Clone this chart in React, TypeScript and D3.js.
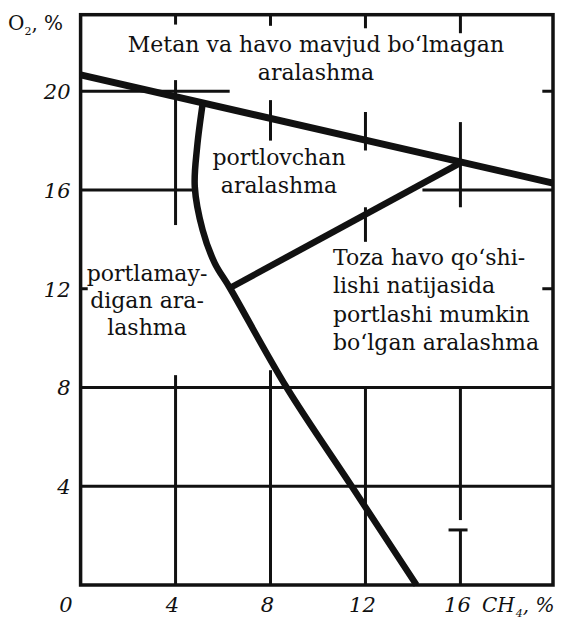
import React from "react";
import * as d3 from "d3";

// Axis ranges (CH4 %, O2 %)
const ch4Domain = [0, 19.9];
const o2Domain = [0, 23.1];

const xTickValues = [0, 4, 8, 12, 16];
const yTickValues = [4, 8, 12, 16, 20];

// Boundary of the region with no methane-air mixture
const upperBoundary: [number, number][] = [
  [0, 20.66],
  [19.9, 16.28],
];

// Line along which fresh air dilutes the mixture
const dilutionLine: [number, number][] = [
  [6.29, 12.03],
  [16, 17.1],
];

// Lower explosive boundary (nose of the explosive triangle)
const explosiveBoundary: [number, number][] = [
  [5.15, 19.55],
  [4.91, 17.75],
  [4.81, 16.13],
  [5.14, 14.38],
  [5.65, 13.04],
  [6.29, 12.03],
  [8.68, 8.0],
  [11.42, 4.0],
  [14.15, 0],
];

// Grid pieces: horizontal [O2, CH4 from, CH4 to]
const hGrid: [number, number, number][] = [
  [20, 0, 6.28],
  [20, 19.45, 19.9],
  [16, 0, 4.8],
  [16, 14.4, 19.9],
  [12, 0, 0.3],
  [12, 19.45, 19.9],
  [8, 0, 19.9],
  [4, 0, 19.9],
  [2.23, 15.5, 16.3],
];

// Grid pieces: vertical [CH4, O2 from, O2 to]
const vGrid: [number, number, number][] = [
  [4, 22.7, 23.1],
  [4, 14.58, 20.45],
  [4, 0, 8.5],
  [8, 22.65, 23.1],
  [8, 18.0, 19.64],
  [8, 0, 8.7],
  [12, 22.55, 23.1],
  [12, 17.6, 19.16],
  [12, 13.9, 15.3],
  [12, 0, 8.0],
  [16, 22.35, 23.1],
  [16, 15.3, 18.75],
  [16, 2.63, 8.0],
  [16, 0, 2.23],
];

// Region captions
const topCaption = ["Metan va havo mavjud bo\u2018lmagan", "aralashma"];
const explosiveCaption = ["portlovchan", "aralashma"];
const nonExplosiveCaption = ["portlamay-", "digan ara-", "lashma"];
const dilutionCaption = [
  "Toza havo qo\u2018shi-",
  "lishi natijasida",
  "portlashi mumkin",
  "bo\u2018lgan aralashma",
];

const W = 563;
const H = 619;
const FONT = "'DejaVu Serif', serif";
const ink = "#111";

type LabelProps = {
  x: number;
  y: number;
  anchor?: "start" | "middle" | "end";
  italic?: boolean;
  size?: number;
  children: React.ReactNode;
};

function Label({ x, y, anchor = "start", italic = false, size = 22, children }: LabelProps) {
  return (
    <text
      x={x}
      y={y}
      textAnchor={anchor}
      fontFamily={FONT}
      fontStyle={italic ? "italic" : "normal"}
      fontSize={size}
      fill={ink}
    >
      {children}
    </text>
  );
}

export default function App() {
  const x = d3.scaleLinear().domain(ch4Domain).range([80.6, 553]);
  const y = d3.scaleLinear().domain(o2Domain).range([585, 14.7]);

  const line = d3
    .line<[number, number]>()
    .x((d) => x(d[0]))
    .y((d) => y(d[1]));
  const curve = d3
    .line<[number, number]>()
    .x((d) => x(d[0]))
    .y((d) => y(d[1]))
    .curve(d3.curveCatmullRom.alpha(0.5));

  return (
    <svg
      width={W}
      height={H}
      viewBox={`0 0 ${W} ${H}`}
      style={{ position: "absolute", left: 0, top: 0, background: "#fff" }}
    >
      <rect width={W} height={H} fill="#fff" />
      {/* grid pieces */}
      {hGrid.map(([o2, a, b], i) => (
        <line
          key={`h${i}`}
          x1={x(a)}
          x2={x(b)}
          y1={y(o2)}
          y2={y(o2)}
          stroke={ink}
          strokeWidth={3}
        />
      ))}
      {vGrid.map(([c, a, b], i) => (
        <line
          key={`v${i}`}
          x1={x(c)}
          x2={x(c)}
          y1={y(a)}
          y2={y(b)}
          stroke={ink}
          strokeWidth={3}
        />
      ))}
      {/* frame */}
      <rect
        x={x(ch4Domain[0])}
        y={y(o2Domain[1])}
        width={x(ch4Domain[1]) - x(ch4Domain[0])}
        height={y(o2Domain[0]) - y(o2Domain[1])}
        fill="none"
        stroke={ink}
        strokeWidth={3.5}
      />
      {/* boundaries */}
      <path d={line(upperBoundary) || ""} fill="none" stroke={ink} strokeWidth={7} />
      <path d={line(dilutionLine) || ""} fill="none" stroke={ink} strokeWidth={6.5} />
      <path d={curve(explosiveBoundary) || ""} fill="none" stroke={ink} strokeWidth={6.5} />

      {/* y tick labels */}
      {yTickValues.map((v) => (
        <Label key={`yt${v}`} x={x(0) - 10} y={y(v) + 8} anchor="end" italic size={21}>
          {v}
        </Label>
      ))}
      {/* x tick labels */}
      {xTickValues.map((v) => (
        <Label
          key={`xt${v}`}
          x={v === 0 ? x(v) - 8 : x(v) - 3}
          y={612}
          anchor={v === 0 ? "end" : "middle"}
          italic
          size={21}
        >
          {v}
        </Label>
      ))}
      {/* axis titles */}
      <Label x={482} y={612} italic size={20}>
        CH
        <tspan fontSize={11} dy={5} dx={1}>4</tspan>
        <tspan dy={-5}>, %</tspan>
      </Label>
      <Label x={8} y={30} size={20}>
        O
        <tspan fontSize={11} dy={5}>2</tspan>
        <tspan dy={-5}>, %</tspan>
      </Label>

      {/* region captions */}
      {topCaption.map((t, i) => (
        <Label key={`tc${i}`} x={316} y={52 + i * 28} anchor="middle">
          {t}
        </Label>
      ))}
      {explosiveCaption.map((t, i) => (
        <Label key={`ec${i}`} x={279} y={165 + i * 28} anchor="middle">
          {t}
        </Label>
      ))}
      {nonExplosiveCaption.map((t, i) => (
        <Label key={`nc${i}`} x={147} y={281 + i * 27} anchor="middle">
          {t}
        </Label>
      ))}
      {dilutionCaption.map((t, i) => (
        <Label key={`dc${i}`} x={333} y={265 + i * 28.3}>
          {t}
        </Label>
      ))}
    </svg>
  );
}
